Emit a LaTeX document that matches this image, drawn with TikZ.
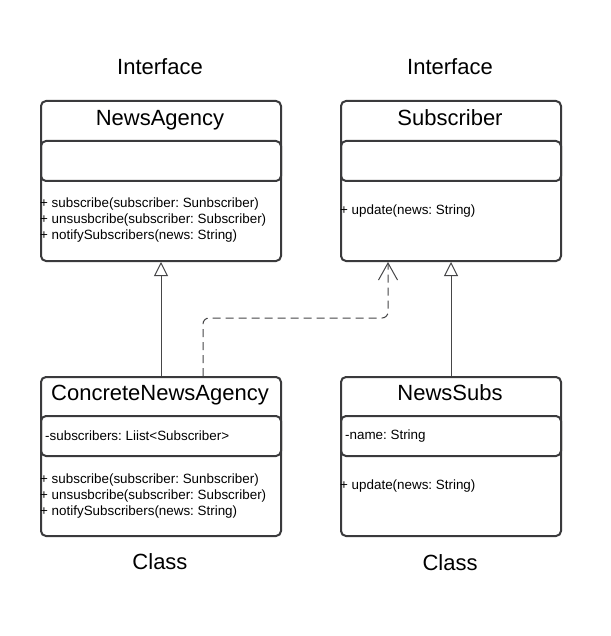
\documentclass[tikz,border=0pt]{standalone}
\usepackage{fontspec}
\setmainfont{Liberation Sans}
\usetikzlibrary{arrows.meta}
\definecolor{boxline}{RGB}{58,58,60}
\definecolor{conn}{RGB}{70,70,72}
\frenchspacing
\tikzset{
  umlbox/.style={draw=boxline, line width=2pt, rounded corners=5pt, anchor=north west, inner sep=0pt},
  title/.style={font=\fontsize{22}{25}\selectfont, inner sep=0pt},
  head/.style={font=\fontsize{22}{25}\selectfont, inner sep=0pt, text depth=0pt},
  member/.style={font=\fontsize{13.4}{16}\selectfont, anchor=west, align=left, inner sep=0pt},
  inherit/.style={draw=conn, line width=1pt, -{Triangle[open, length=14pt, width=14pt]}},
  realize/.style={draw=conn, line width=1pt, dash pattern=on 8pt off 5pt, rounded corners=6pt, -{Straight Barb[length=17pt, width=19pt]}}
}
\begin{document}
\begin{tikzpicture}[x=1pt, y=-1pt]
\useasboundingbox[fill=white] (0,0) rectangle (610,636);

% NewsAgency
\node[umlbox, minimum width=240pt, minimum height=160pt] (na) at (40,100) {};
\node[umlbox, minimum width=240pt, minimum height=40pt] (naattr) at (40,140) {};
\node[head] (naname) at (160,118) {NewsAgency};
\node[member] (nameth) at (40,220) {+ subscribe(subscriber: Sunbscriber)\\+ unsusbcribe(subscriber: Subscriber)\\+ notifySubscribers(news: String)};
\node[title] (naint) at (160,67) {Interface};

% Subscriber
\node[umlbox, minimum width=220pt, minimum height=160pt] (sub) at (340,100) {};
\node[umlbox, minimum width=220pt, minimum height=40pt] (subattr) at (340,140) {};
\node[head] (subname) at (450,118) {Subscriber};
\node[member] (submeth) at (340,211) {+ update(news: String)};
\node[title] (subint) at (450,67) {Interface};

% ConcreteNewsAgency
\node[umlbox, minimum width=240pt, minimum height=159pt] (cna) at (40,376) {};
\node[umlbox, minimum width=240pt, minimum height=40pt] (cnaattr) at (40,415) {};
\node[head] (cnaname) at (160,393) {ConcreteNewsAgency};
\node[member] (cnaatt) at (45,435.5) {-subscribers: Liist<Subscriber>};
\node[member] (cnameth) at (40,496) {+ subscribe(subscriber: Sunbscriber)\\+ unsusbcribe(subscriber: Subscriber)\\+ notifySubscribers(news: String)};
\node[title] (cnacls) at (160,562) {Class};

% NewsSubs
\node[umlbox, minimum width=220pt, minimum height=159pt] (ns) at (340,376) {};
\node[umlbox, minimum width=220pt, minimum height=40pt] (nsattr) at (340,415) {};
\node[head] (nsname) at (450,393) {NewsSubs};
\node[member] (nsatt) at (345,436) {-name: String};
\node[member] (nsmeth) at (340,486) {+ update(news: String)};
\node[title] (nscls) at (450,563) {Class};

% connectors
\draw[inherit] (cna.north) -- (na.south);
\draw[inherit] (ns.north) -- (sub.south);
\coordinate (bend) at (300,318);
\draw[realize] ([xshift=42pt]cna.north) |- (bend) -| ([xshift=-63pt]sub.south);
\end{tikzpicture}
\end{document}
